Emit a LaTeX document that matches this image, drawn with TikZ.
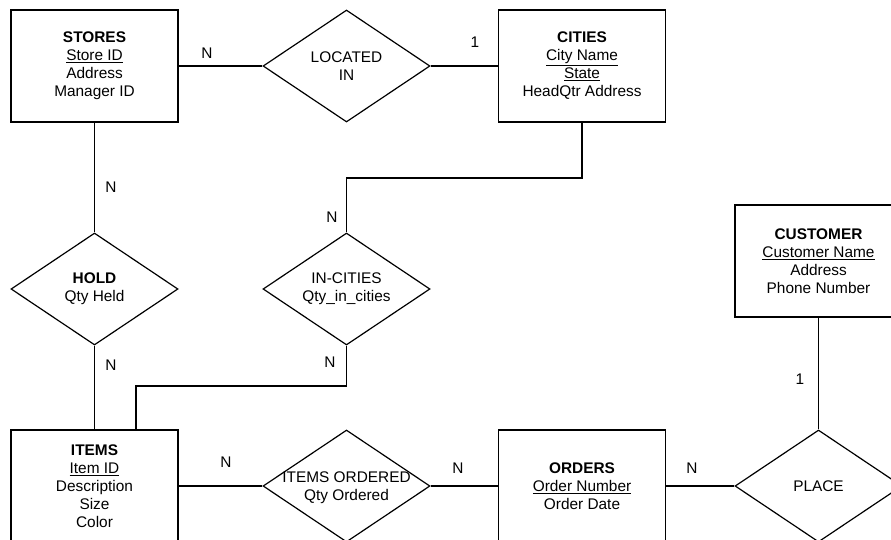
\documentclass[tikz,border=0pt]{standalone}
\usepackage{fontspec}
\setmainfont{Liberation Sans}
\usetikzlibrary{shapes.geometric}
\begin{document}
\begin{tikzpicture}[x=1pt,y=-1pt,
  ent/.style={draw, line width=1.2pt, minimum width=167pt, minimum height=112pt, inner sep=0pt, align=center, font=\fontsize{15.4}{18}\selectfont},
  rel/.style={draw, diamond, line width=1.2pt, minimum width=167pt, minimum height=112pt, inner sep=0pt},
  txt/.style={align=center, font=\fontsize{15.4}{18}\selectfont, inner sep=0pt},
  card/.style={font=\fontsize{15.4}{18}\selectfont, inner sep=0pt},
  conn/.style={line width=1.2pt}]
\path[use as bounding box, clip] (0,0) rectangle (891,539);
% entities
\node[ent] (stores) at (94.5,66) {\textbf{STORES}\\\underline{Store ID}\\Address\\Manager ID};
\node[ent] (cities) at (582,66) {\textbf{CITIES}\\\underline{City Name}\\\underline{State}\\HeadQtr Address};
\node[ent] (customer) at (818.5,261) {\textbf{CUSTOMER}\\\underline{Customer Name}\\Address\\Phone Number};
\node[ent] (items) at (94.5,486) {\textbf{ITEMS}\\\underline{Item ID}\\Description\\Size\\Color};
\node[ent] (orders) at (582,486) {\textbf{ORDERS}\\\underline{Order Number}\\Order Date};
% relationships
\node[rel] (located) at (346.5,66) {};
\node[txt] (locatedT) at (located) {LOCATED\\IN};
\node[rel] (hold) at (94.5,289) {};
\node[txt] (holdT) at (hold) {\textbf{HOLD}\\Qty Held};
\node[rel] (incities) at (346.5,289) {};
\node[txt] (incitiesT) at (incities) {IN-CITIES\\Qty\_in\_cities};
\node[rel] (itemsord) at (346.5,486) {};
\node[txt] (itemsordT) at ([yshift=-1.5pt]itemsord) {ITEMS ORDERED\\Qty Ordered};
\node[rel] (place) at (818.5,486) {};
\node[txt] (placeT) at (place) {PLACE};
% connectors
\coordinate (bend1) at (346.5,178);
\coordinate (bend2) at (136,386);
\draw[conn] (stores.east) -- (located.west);
\draw[conn] (located.east) -- (cities.west);
\draw[conn] (stores.south) -- (hold.north);
\draw[conn] (hold.south) -- (items.north);
\draw[conn] (cities.south) |- (bend1) -- (incities.north);
\draw[conn] (incities.south) |- (bend2) -- (bend2 |- items.north);
\draw[conn] (items.east) -- (itemsord.west);
\draw[conn] (itemsord.east) -- (orders.west);
\draw[conn] (orders.east) -- (place.west);
\draw[conn] (customer.south) -- (place.north);
% cardinalities
\node[card] (c1) at (207,53) {N};
\node[card] (c2) at (475,42) {1};
\node[card] (c3) at (111,187) {N};
\node[card] (c4) at (332,217) {N};
\node[card] (c5) at (111,365) {N};
\node[card] (c6) at (330,362) {N};
\node[card] (c7) at (226,462) {N};
\node[card] (c8) at (458,468) {N};
\node[card] (c9) at (692,468) {N};
\node[card] (c10) at (800,379) {1};
\end{tikzpicture}
\end{document}
